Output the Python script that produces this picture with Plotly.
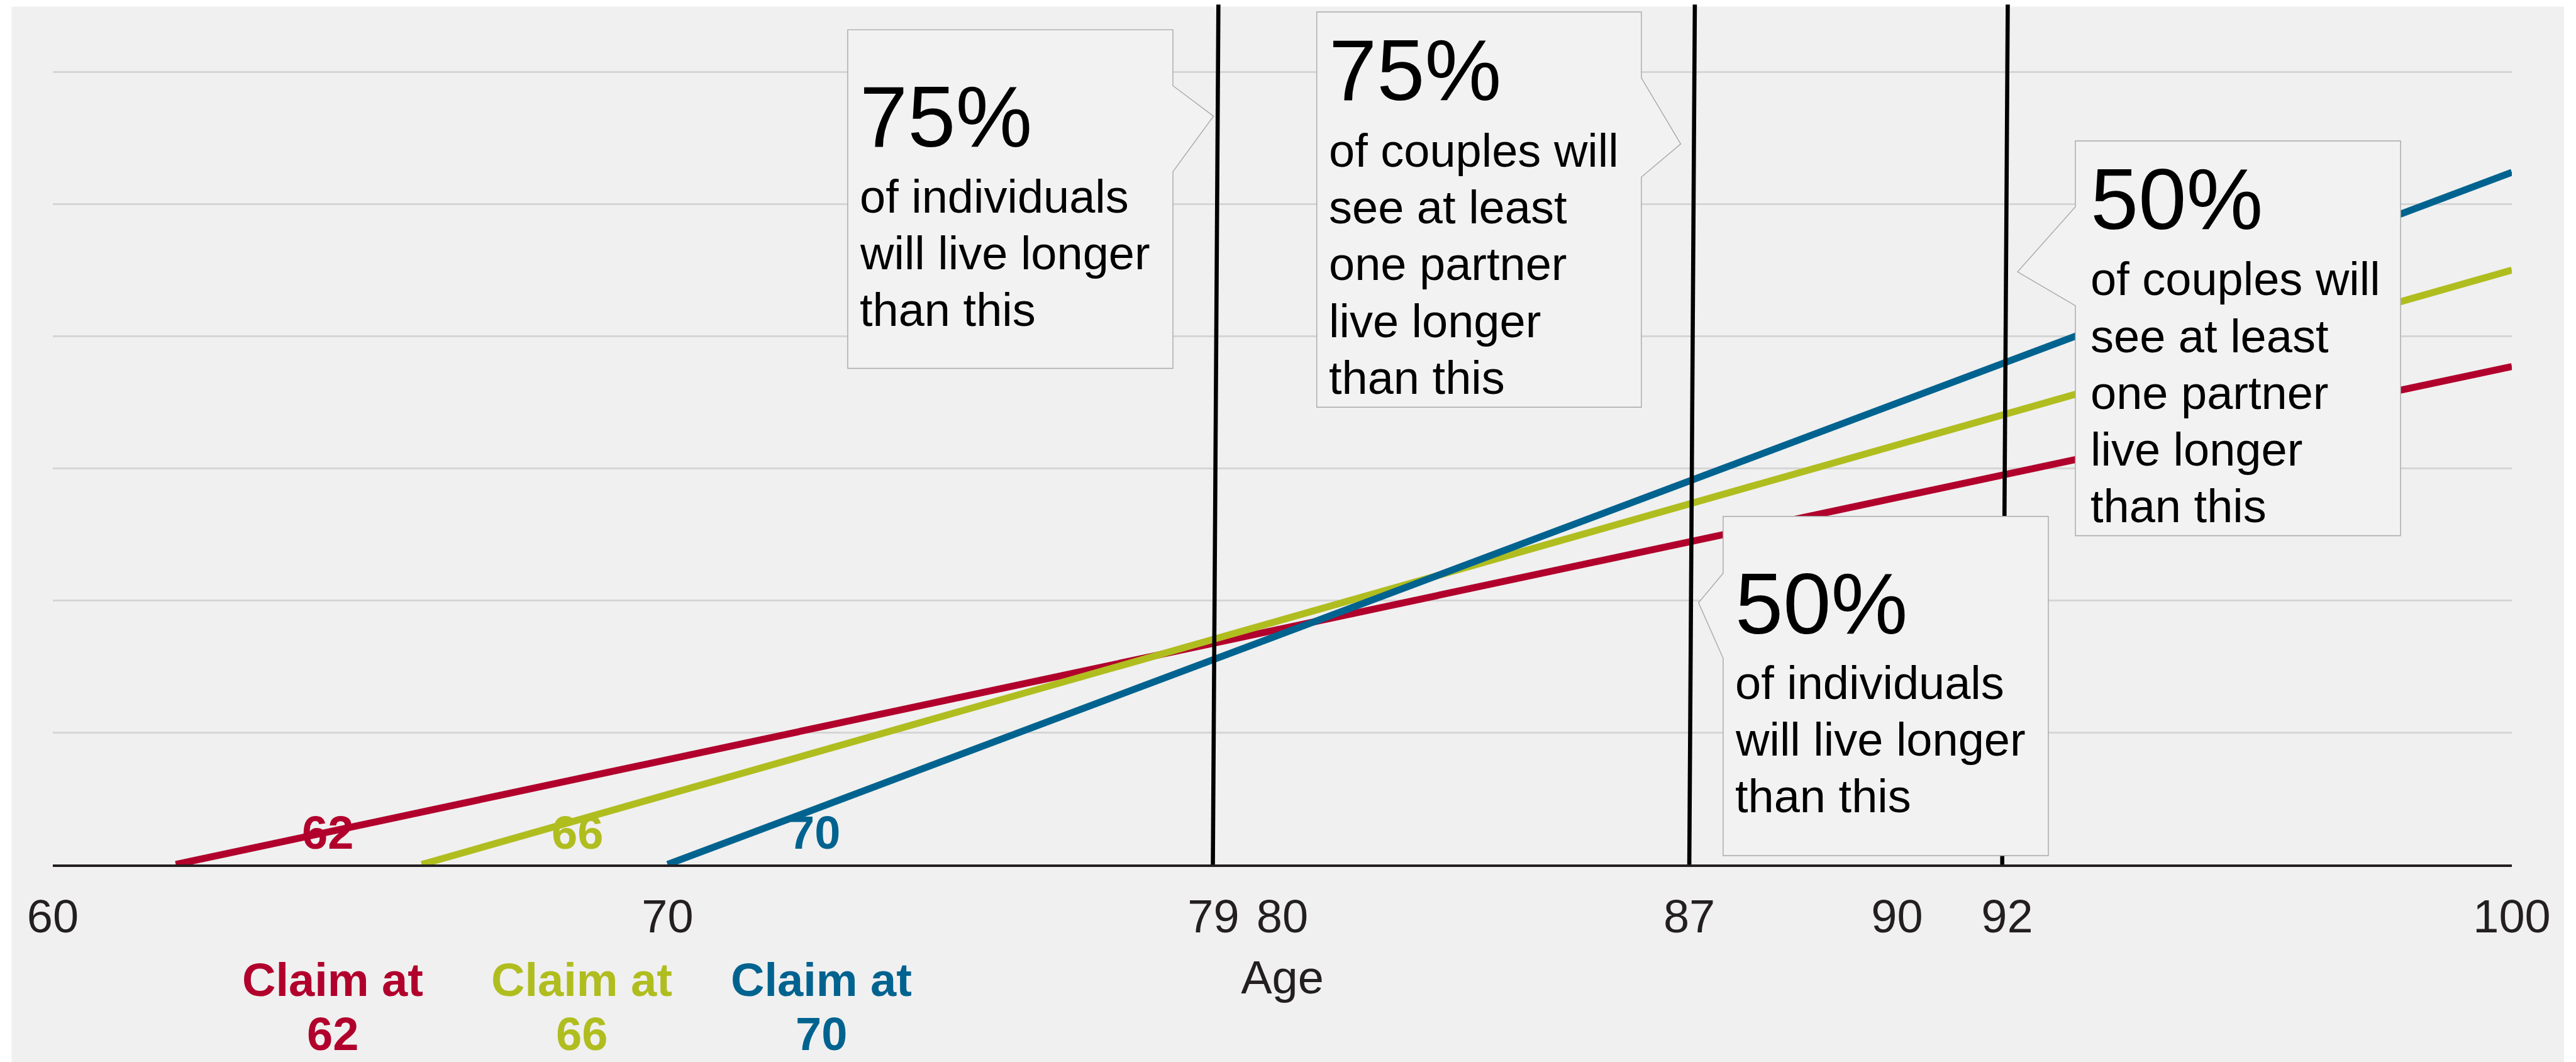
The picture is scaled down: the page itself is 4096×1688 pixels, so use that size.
import plotly.graph_objects as go

# ---------------- data ----------------
claim_names = ["Claim at 62", "Claim at 66", "Claim at 70"]
claim_short = ["62", "66", "70"]
claim_colors = ["#b1002c", "#b0bd1f", "#00638f"]

age_62 = [62, 100]
value_62 = [0, 377]
age_66 = [66, 100]
value_66 = [0, 450]
age_70 = [70, 100]
value_70 = [0, 524]

axis_ticks = [60, 70, 80, 90, 100]
milestone_labels = ["79", "87", "92"]
milestone_label_pos = [78.88, 86.62, 91.79]
milestone_bottom = [78.87, 86.62, 91.71]
milestone_top = [78.96, 86.71, 91.80]

callout_big = ["75%", "75%", "50%", "50%"]
callout_body = [
    ["of individuals", "will live longer", "than this"],
    ["of couples will", "see at least", "one partner", "live longer", "than this"],
    ["of couples will", "see at least", "one partner", "live longer", "than this"],
    ["of individuals", "will live longer", "than this"],
]

# ---------------- layout geometry (in axis units) ----------------
# box: left, right, bottom, top, pointer side, pointer y1, tip x, tip y, pointer y2
boxes = [
    (72.93, 78.22, 375.6, 631.9, "right", 589.6, 78.88, 566.5, 524.5),
    (80.56, 85.84, 346.2, 645.4, "right", 595.5, 86.48, 545.5, 520.4),
    (92.90, 98.19, 248.9, 547.8, "left", 497.9, 91.96, 448.7, 423.0),
    (87.17, 92.46, 6.7, 263.5, "left", 220.4, 86.77, 198.1, 156.2),
]
# text left x, big text centre y, first body line centre y
box_text = [
    (73.10, 566.3, 505.7),
    (80.74, 601.3, 540.5),
    (93.13, 503.6, 443.1),
    (87.35, 197.6, 137.6),
]
line_step = 43.0

W, H = 4096, 1688
ML, MR, MT, MB = 84, 102, 0, 314
plot_w = W - ML - MR
plot_h = H - MT - MB
y_top = plot_h / 209.94 * 100

FONT = "Liberation Sans, Arial, Helvetica, sans-serif"
TXT = "#231f20"
BG = "#f0f0f0"

fig = go.Figure()
series = [(age_62, value_62), (age_66, value_66), (age_70, value_70)]
for (xs, ys), name, col in zip(series, claim_names, claim_colors):
    fig.add_trace(go.Scatter(x=xs, y=ys, mode="lines", name=name,
                             line=dict(color=col, width=11),
                             showlegend=False, hoverinfo="skip"))

shapes = []
# background panel (paper coordinates from pixel positions)
def px_to_paper_x(px):
    return (px - ML) / plot_w

def py_to_paper_y(py):
    return (MT + plot_h - py) / plot_h

def val_to_paper_y(v):
    return v / y_top

shapes.append(dict(type="rect", xref="paper", yref="paper",
                   x0=px_to_paper_x(18.5), x1=px_to_paper_x(4077),
                   y0=py_to_paper_y(H + 5), y1=py_to_paper_y(10.6),
                   fillcolor=BG, line=dict(width=0), layer="below"))

# milestone vertical lines
for xb, xt in zip(milestone_bottom, milestone_top):
    shapes.append(dict(type="line", xref="x", yref="y",
                       x0=xb, y0=0, x1=xt, y1=651,
                       line=dict(color="#000000", width=6.6), layer="above"))

# callout boxes
for (l, r, b, t, side, p1, tx, ty, p2) in boxes:
    if side == "right":
        path = (f"M {l},{b} L {l},{t} L {r},{t} L {r},{p1} L {tx},{ty} "
                f"L {r},{p2} L {r},{b} Z")
    else:
        path = (f"M {l},{b} L {l},{p2} L {tx},{ty} L {l},{p1} L {l},{t} "
                f"L {r},{t} L {r},{b} Z")
    shapes.append(dict(type="path", xref="x", yref="y", path=path,
                       fillcolor="#f2f2f2",
                       line=dict(color="#a8a8a8", width=1.4), layer="above"))

annotations = []
for big, body, (tx, by, fy) in zip(callout_big, callout_body, box_text):
    annotations.append(dict(x=tx, y=by, xref="x", yref="y", text=big,
                            showarrow=False, xanchor="left", yanchor="middle",
                            font=dict(family=FONT, size=137, color="#000000")))
    for i, line in enumerate(body):
        annotations.append(dict(x=tx, y=fy - i * line_step, xref="x", yref="y",
                                text=line, showarrow=False, xanchor="left",
                                yanchor="middle",
                                font=dict(family=FONT, size=74, color="#000000")))

# labels on the lines
line_label_x = [64.47, 68.53, 72.39]
for lx, txt, col in zip(line_label_x, claim_short, claim_colors):
    annotations.append(dict(x=lx, y=23.9, xref="x", yref="y", text=f"<b>{txt}</b>",
                            showarrow=False, xanchor="center", yanchor="middle",
                            font=dict(family=FONT, size=74, color=col)))

# legend-like labels under the axis
legend_x = [64.55, 68.6, 72.5]
for lx, txt, col in zip(legend_x, claim_short, claim_colors):
    annotations.append(dict(x=lx, y=val_to_paper_y(-87.5), xref="x", yref="paper",
                            text="<b>Claim at</b>",
                            showarrow=False, xanchor="center", yanchor="middle",
                            font=dict(family=FONT, size=74, color=col)))
    annotations.append(dict(x=lx, y=val_to_paper_y(-128.5), xref="x", yref="paper",
                            text=f"<b>{txt}</b>",
                            showarrow=False, xanchor="center", yanchor="middle",
                            font=dict(family=FONT, size=74, color=col)))

tickvals = axis_ticks + milestone_label_pos
ticktext = [str(v) for v in axis_ticks] + milestone_labels

fig.update_layout(
    width=W, height=H,
    margin=dict(l=ML, r=MR, t=MT, b=MB, pad=0, autoexpand=False),
    paper_bgcolor="#ffffff",
    plot_bgcolor="rgba(0,0,0,0)",
    font=dict(family=FONT, color=TXT),
    shapes=shapes,
    annotations=annotations,
    showlegend=False,
    xaxis=dict(range=[60, 100], showgrid=False, zeroline=False,
               showline=True, linecolor=TXT, linewidth=3.5,
               ticks="", tickvals=tickvals, ticktext=ticktext,
               tickfont=dict(family=FONT, size=74, color=TXT),
               ticklabelstandoff=15,
               title=dict(text="Age", standoff=32,
                          font=dict(family=FONT, size=74, color=TXT)),
               automargin=False, fixedrange=True),
    yaxis=dict(range=[0, y_top], showgrid=True, gridcolor="#d5d5d5",
               gridwidth=2.5, dtick=100, tick0=0, zeroline=False,
               showline=False, showticklabels=False, ticks="",
               automargin=False, fixedrange=True),
)

fig.write_html("out.html")
